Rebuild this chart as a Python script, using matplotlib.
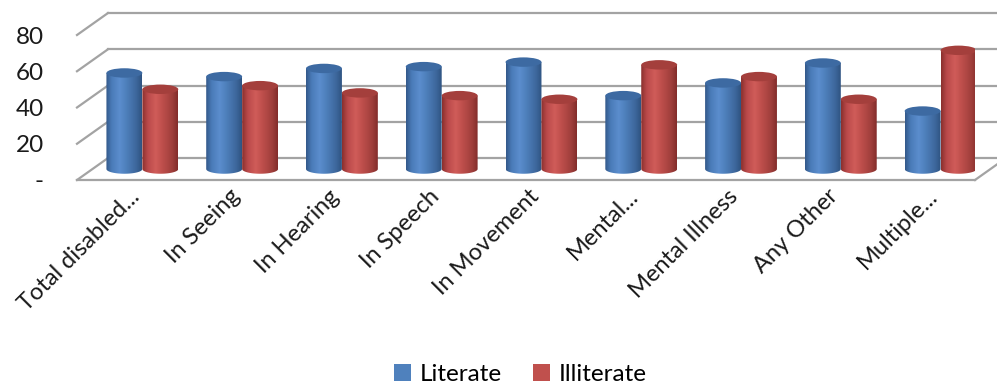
import numpy as np
import matplotlib.pyplot as plt
from matplotlib.colors import LinearSegmentedColormap
from matplotlib.patches import Ellipse, PathPatch, Patch
from matplotlib.path import Path

plt.rcParams["font.family"] = ["Lato", "DejaVu Sans"]

categories = [
    "Total disabled...",
    "In Seeing",
    "In Hearing",
    "In Speech",
    "In Movement",
    "Mental...",
    "Mental Illness",
    "Any Other",
    "Multiple...",
]
literate = [53, 51, 55.5, 56.5, 59, 40.5, 47.5, 58.5, 32]
illiterate = [44, 46, 42, 40.5, 38.5, 57.5, 51, 38.5, 65.5]
series_names = ["Literate", "Illiterate"]
y_ticks = [0, 20, 40, 60, 80]
y_labels = ["-", "20", "40", "60", "80"]

# depth of the 3d box in data units (x: categories, y: values)
DEPTH_X = 0.31
DEPTH_Y = 12.1
BAR_W = 0.36
ELL_H = 5.2
GRID_COLOR = "#a3a3a3"

body_colors = [
    ["#33598a", "#4a7bb8", "#5b8dcd", "#4f81bd", "#3d679c", "#2f5482"],
    ["#8a302e", "#b9494a", "#d05c59", "#c0504d", "#9f3e3b", "#832d2b"],
]
top_colors = ["#3d6aa2", "#a43f3c"]
legend_colors = ["#4f81bd", "#c0504d"]

fig = plt.figure(figsize=(9.97, 3.83), dpi=100)
ax = fig.add_axes([77 / 997, 1 - 180 / 383, 898 / 997, 145 / 383])

n = len(categories)

# back wall gridlines and left side diagonals
for v in y_ticks:
    ax.plot([DEPTH_X, n + DEPTH_X], [v + DEPTH_Y, v + DEPTH_Y],
            color=GRID_COLOR, lw=1.6, clip_on=False, zorder=1)
    ax.plot([0, DEPTH_X], [v, v + DEPTH_Y],
            color=GRID_COLOR, lw=1.6, clip_on=False, zorder=1)

# floor front edge and right diagonal
ax.plot([0, n], [0, 0], color=GRID_COLOR, lw=1.6, clip_on=False, zorder=1)
ax.plot([n, n + DEPTH_X], [0, DEPTH_Y], color=GRID_COLOR, lw=1.6,
        clip_on=False, zorder=1)

mid_dx = DEPTH_X / 2
mid_dy = DEPTH_Y / 2
t = np.linspace(np.pi, 2 * np.pi, 40)

for s, values in enumerate([literate, illiterate]):
    cmap = LinearSegmentedColormap.from_list(
        "cyl%d" % s,
        list(zip([0, 0.15, 0.38, 0.55, 0.85, 1.0], body_colors[s])),
    )
    for i, v in enumerate(values):
        x0 = i + 0.5 - BAR_W + s * BAR_W + mid_dx
        x1 = x0 + BAR_W
        xc = (x0 + x1) / 2
        base = mid_dy
        top = v + mid_dy

        arc_x = xc + BAR_W / 2 * np.cos(t)
        arc_y = base + ELL_H / 2 * np.sin(t)
        verts = [(x0, top)] + list(zip(arc_x, arc_y)) + [(x1, top), (x0, top)]
        codes = [Path.MOVETO] + [Path.LINETO] * (len(verts) - 2) + [Path.CLOSEPOLY]
        body = PathPatch(Path(verts, codes), facecolor="none", edgecolor="none",
                         zorder=3 + i * 0.01 + s * 0.001)
        ax.add_patch(body)

        grad = np.linspace(0, 1, 64).reshape(1, -1)
        im = ax.imshow(grad, cmap=cmap, extent=[x0, x1, base - ELL_H / 2, top],
                       aspect="auto", origin="lower", interpolation="bilinear",
                       zorder=3 + i * 0.01 + s * 0.001)
        im.set_clip_path(body)

        cap = Ellipse((xc, top), BAR_W, ELL_H, facecolor=top_colors[s],
                      edgecolor="none", zorder=3.005 + i * 0.01 + s * 0.001)
        ax.add_patch(cap)

ax.set_xlim(0, n)
ax.set_ylim(0, 80)

ax.set_yticks(y_ticks)
ax.set_yticklabels(y_labels, fontsize=17.5)
ax.set_xticks(np.arange(n) + 0.5 + 0.02)
ax.set_xticklabels(categories, fontsize=17)
plt.setp(ax.get_xticklabels(), rotation=45, ha="right", rotation_mode="anchor")
ax.tick_params(axis="y", length=0, pad=24, colors="#1a1a1a")
ax.tick_params(axis="x", length=0, pad=4, colors="#1a1a1a")
for spine in ax.spines.values():
    spine.set_visible(False)

handles = [Patch(facecolor=c, edgecolor="none") for c in legend_colors]
fig.legend(handles, series_names, loc="lower center", ncol=2,
           bbox_to_anchor=(0.522, -0.062), frameon=False, fontsize=17.5,
           handlelength=0.7, handleheight=0.7, handletextpad=0.35,
           columnspacing=1.3)

fig.savefig("out.png", dpi=100)
